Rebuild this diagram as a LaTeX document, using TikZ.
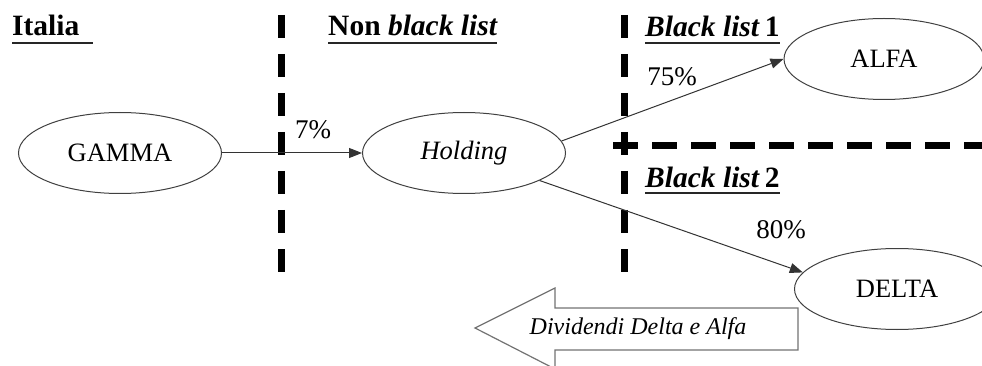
\documentclass[tikz,border=0pt]{standalone}
\usepackage{fontspec}
\setmainfont{Liberation Serif}
\usetikzlibrary{arrows.meta,shapes.geometric}
\begin{document}
\begin{tikzpicture}[x=1pt,y=-1pt,
  ell/.style={draw=black!75,line width=1pt,ellipse,inner sep=0pt,minimum width=203pt,minimum height=81pt,font=\fontsize{26.5}{30}\selectfont},
  conn/.style={draw=black!80,line width=1pt,-{Triangle[length=13pt,width=10pt]}},
  hdr/.style={anchor=base west,inner sep=0pt,font=\fontsize{29.5}{32}\selectfont\bfseries},
  uline/.style={line width=2pt,draw=black!85},
  pct/.style={inner sep=0pt,font=\fontsize{27}{30}\selectfont},
  vsep/.style={line width=7pt,dash pattern=on 23pt off 16pt},
  hsep/.style={line width=7pt,dash pattern=on 25pt off 14pt}]
\useasboundingbox (0,0) rectangle (982,366);
\clip (0,0) rectangle (982,366);
% separators
\draw[vsep] (281,15) -- (281,273);
\draw[vsep] (624,15) -- (624,273);
\draw[hsep] (613,146) -- (990,146);
% headers
\node[hdr] (italia) at (12,36) {Italia};
\draw[uline] (12,43) -- (93,43);
\node[hdr] (nonbl) at (328,36) {Non \textit{black list}};
\draw[uline] (328,43) -- (497,43);
\node[hdr] (bl1) at (645,37) {\textit{Black list}\,1};
\draw[uline] (645,43) -- (780,43);
\node[hdr] (bl2) at (645,188) {\textit{Black list}\,2};
\draw[uline] (645,193) -- (780,193);
% nodes
\node[ell] (gamma) at (120,153) {GAMMA};
\node[ell] (holding) at (464,153) {\textit{Holding}};
\node[ell,minimum width=200pt] (alfa) at (884,59) {ALFA};
\node[ell,minimum width=205pt] (delta) at (897,289) {DELTA};
% connectors
\draw[conn] (gamma) -- (holding);
\draw[conn] (holding.7) -- (alfa.west);
\draw[conn] (holding.-20) -- (delta.170);
% labels
\node[pct] (p7) at (313,130) {7\%};
\node[pct] (p75) at (672,77) {75\%};
\node[pct] (p80) at (781,230) {80\%};
% block arrow
\draw[draw=black!55,line width=1.2pt,fill=white] (798,308) -- (555,308) -- (555,288) -- (475,328) -- (555,369) -- (555,350) -- (798,350) -- cycle;
\node[inner sep=0pt,font=\fontsize{24}{28}\selectfont\itshape] (div) at (638,329) {Dividendi Delta e Alfa};
\end{tikzpicture}
\end{document}
